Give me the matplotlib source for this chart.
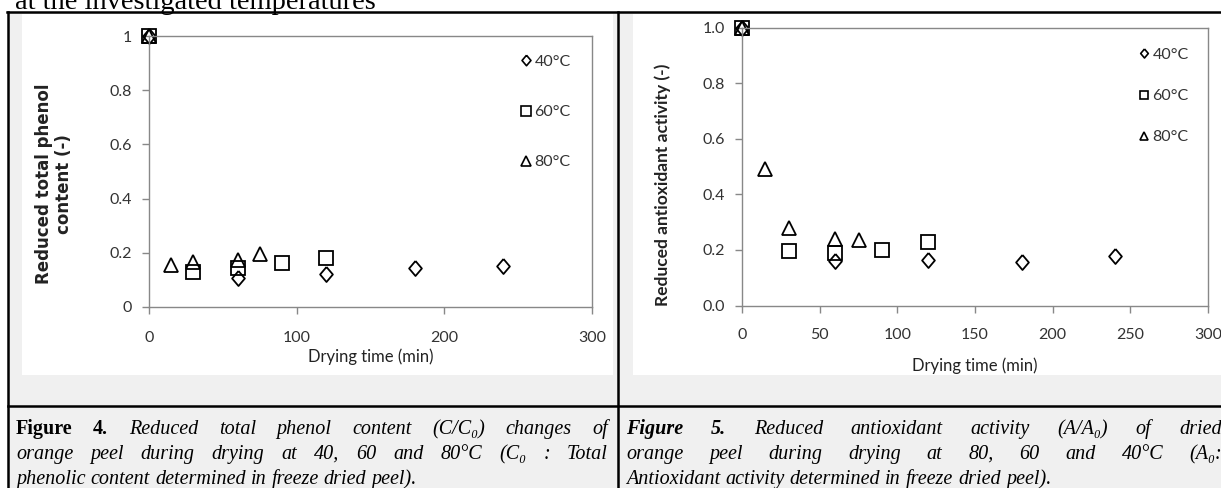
import matplotlib
matplotlib.use('Agg')
import matplotlib.pyplot as plt
from matplotlib.transforms import Affine2D
from matplotlib.patches import Rectangle
from matplotlib.lines import Line2D

# ---- data ----
temps = ['40°C', '60°C', '80°C']
# narrow diamond, square, triangle (as in the Excel charts)
diamond = [(0, 1), (0.85, 0), (0, -1), (-0.85, 0), (0, 1)]
markers = [diamond, 's', '^']
marker_sizes = [10.8, 9.5, 10]

# Figure 4: reduced total phenol content C/C0
phenol_t40 = [0, 60, 120, 180, 240]
phenol_40 = [1.0, 0.108, 0.122, 0.145, 0.151]
phenol_t60 = [0, 30, 60, 90, 120]
phenol_60 = [1.0, 0.13, 0.145, 0.163, 0.18]
phenol_t80 = [0, 15, 30, 60, 75]
phenol_80 = [1.0, 0.155, 0.166, 0.175, 0.195]

# Figure 5: reduced antioxidant activity A/A0
aa_t40 = [0, 60, 120, 180, 240]
aa_40 = [1.0, 0.16, 0.165, 0.157, 0.177]
aa_t60 = [0, 30, 60, 90, 120]
aa_60 = [1.0, 0.197, 0.19, 0.2, 0.23]
aa_t80 = [0, 15, 30, 60, 75]
aa_80 = [1.0, 0.49, 0.28, 0.24, 0.234]

phenol_xticks = [0, 100, 200, 300]
phenol_yticks = [0, 0.2, 0.4, 0.6, 0.8, 1.0]
phenol_ylabels = ['0', '0.2', '0.4', '0.6', '0.8', '1']
aa_xticks = [0, 50, 100, 150, 200, 250, 300]
aa_yticks = [0, 0.2, 0.4, 0.6, 0.8, 1.0]
aa_ylabels = ['0.0', '0.2', '0.4', '0.6', '0.8', '1.0']

heading = 'at the investigated temperatures'
cap4 = [
    [('Figure', 'b'), ('4.', 'b'), ('Reduced', 'i'), ('total', 'i'), ('phenol', 'i'),
     ('content', 'i'), ('(C/C₀)', 'i'), ('changes', 'i'), ('of', 'i')],
    [(w, 'i') for w in 'orange peel during drying at 40, 60 and 80°C (C₀ : Total'.split()],
    [(w, 'i') for w in 'phenolic content determined in freeze dried peel).'.split()],
]
cap5 = [
    [('Figure', 'bi'), ('5.', 'bi')] + [(w, 'i') for w in 'Reduced antioxidant activity (A/A₀) of dried'.split()],
    [(w, 'i') for w in 'orange peel during drying at 80, 60 and 40°C (A₀:'.split()],
    [(w, 'i') for w in 'Antioxidant activity determined in freeze dried peel).'.split()],
]

W, H = 1221, 488
fig = plt.figure(figsize=(W / 100, H / 100), dpi=100)
fig.patch.set_facecolor('white')
# pixel coordinates, origin top-left
px = Affine2D().scale(1 / W, -1 / H).translate(0, 1) + fig.transFigure

GRAY = '#f0f0f0'
SANS = ['Lato', 'DejaVu Sans']
SERIF = ['Liberation Serif', 'DejaVu Serif']


def box(x0, y0, x1, y1, color):
    fig.patches.append(Rectangle((x0, y0), x1 - x0, y1 - y0, transform=px,
                                 facecolor=color, edgecolor='none', zorder=-10))


def rule(x0, y0, x1, y1):
    fig.lines.append(Line2D([x0, x1], [y0, y1], transform=px, color='black',
                            lw=1.8, zorder=5))


# table background and chart areas
box(8, 12, W + 5, H + 5, GRAY)
box(22, 14, 613, 375, 'white')
box(633, 14, W + 5, 375, 'white')
rule(7, 12, W + 5, 12)
rule(8, 12, 8, H + 5)
rule(617.5, 12, 617.5, H + 5)
rule(8, 406, W + 5, 406)

fig.text(15, 9, heading, transform=px, family=SERIF, fontsize=20.5,
         va='baseline', ha='left')


def make_axes(x0, ytop, x1, ybot, xpad):
    ax = fig.add_axes([x0 / W, 1 - ybot / H, (x1 - x0) / W, (ybot - ytop) / H])
    ax.set_facecolor('none')
    for s in ax.spines.values():
        s.set_color('#888888')
        s.set_linewidth(1.0)
    ax.tick_params(direction='out', length=5, width=1, color='#888888',
                   labelcolor='#333333', labelsize=11.5)
    ax.tick_params(axis='y', pad=7)
    ax.tick_params(axis='x', pad=xpad)
    return ax


def scatter_series(ax, series):
    for (t, v), m, ms in zip(series, markers, marker_sizes):
        ax.plot(t, v, linestyle='none', marker=m, markersize=ms,
                markerfacecolor='none', markeredgecolor='black',
                markeredgewidth=1.3, clip_on=False)


def add_legend(ax, xpx, ypx, x0, ytop, x1, ybot, spacing, mscale):
    handles = [Line2D([], [], linestyle='none', marker=m, markerfacecolor='none',
                      markeredgecolor='black', markeredgewidth=1.2, markersize=ms)
               for m, ms in zip(markers, marker_sizes)]
    leg = ax.legend(handles, temps, loc='center left',
                    bbox_to_anchor=((xpx - x0) / (x1 - x0), (ybot - ypx) / (ybot - ytop)),
                    frameon=False, borderpad=0, borderaxespad=0, handlelength=0.6,
                    handletextpad=0.25, labelspacing=spacing, markerscale=mscale,
                    prop={'family': SANS, 'size': 11.5})
    for t in leg.get_texts():
        t.set_color('#333333')


# ---- Figure 4 ----
L = (149, 36, 592, 307)
ax1 = make_axes(*L, xpad=12)
scatter_series(ax1, [(phenol_t40, phenol_40), (phenol_t60, phenol_60), (phenol_t80, phenol_80)])
ax1.set_xlim(0, 300)
ax1.set_ylim(0, 1)
ax1.set_xticks(phenol_xticks)
ax1.set_yticks(phenol_yticks, phenol_ylabels)
for lab in ax1.get_xticklabels() + ax1.get_yticklabels():
    lab.set_family(SANS)
ax1.set_xlabel('Drying time (min)', family=SANS, fontsize=12, labelpad=3, color='#222222')
ax1.set_ylabel('Reduced total phenol\ncontent (-)', family='DejaVu Sans', fontsize=12,
               fontweight='bold', color='#222222', linespacing=1.1)
ax1.yaxis.set_label_coords((54 - L[0]) / (L[2] - L[0]), (L[3] - 184) / (L[3] - L[1]))
ax1.yaxis.label.set_va('center')
add_legend(ax1, 521, 112, *L, spacing=2.25, mscale=0.7)

# ---- Figure 5 ----
R = (742, 27.5, 1208, 305.5)
ax2 = make_axes(*R, xpad=11)
scatter_series(ax2, [(aa_t40, aa_40), (aa_t60, aa_60), (aa_t80, aa_80)])
ax2.set_xlim(0, 300)
ax2.set_ylim(0, 1)
ax2.set_xticks(aa_xticks)
ax2.set_yticks(aa_yticks, aa_ylabels)
for lab in ax2.get_xticklabels() + ax2.get_yticklabels():
    lab.set_family(SANS)
ax2.set_xlabel('Drying time (min)', family=SANS, fontsize=12, labelpad=11, color='#222222')
ax2.set_ylabel('Reduced antioxidant activity (-)', family=SANS, fontsize=12.5,
               fontweight='bold', color='#222222')
ax2.yaxis.set_label_coords((663 - R[0]) / (R[2] - R[0]), (R[3] - 185) / (R[3] - R[1]))
ax2.yaxis.label.set_va('center')
add_legend(ax2, 1139, 96, *R, spacing=1.7, mscale=0.6)

# ---- justified captions ----
renderer = fig.canvas.get_renderer()
CAP_SIZE = 14.5
STYLE = {'b': ('normal', 'bold'), 'i': ('italic', 'normal'), 'bi': ('italic', 'bold')}


def caption(lines, x0, x1, baselines):
    for n, (words, yb) in enumerate(zip(lines, baselines)):
        texts = []
        for w, st in words:
            style, weight = STYLE[st]
            texts.append(fig.text(0, yb, w, transform=px, family=SERIF, fontsize=CAP_SIZE,
                                  style=style, weight=weight, va='baseline', ha='left'))
        widths = [t.get_window_extent(renderer).width for t in texts]
        if n < len(lines) - 1:
            gap = (x1 - x0 - sum(widths)) / (len(texts) - 1)
        else:
            gap = 0.25 * CAP_SIZE * 100 / 72
        x = x0
        for t, w in zip(texts, widths):
            t.set_x(x)
            x += w + gap


caption(cap4, 16, 608, [434, 459, 484])
caption(cap5, 626, 1222, [434, 459, 484])

fig.savefig('out.png', dpi=100)
